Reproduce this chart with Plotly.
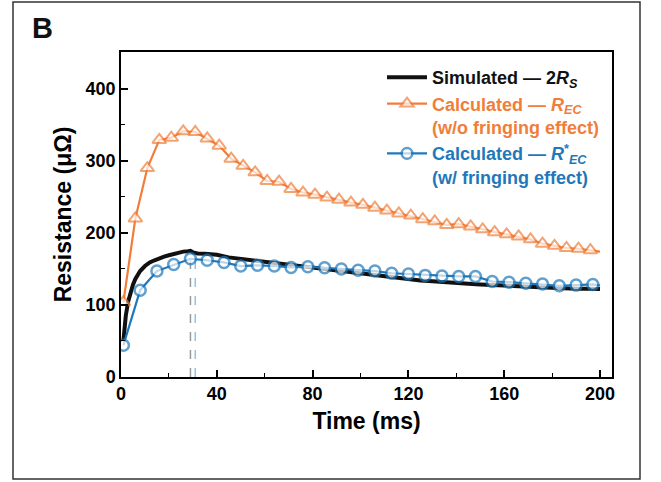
import plotly.graph_objects as go

# ---- data ----
t_sim = [1, 2, 3, 4, 5, 6, 7, 8, 10, 12, 14, 16, 18, 20, 22, 24, 26, 28, 29, 30, 32, 35, 40, 45,
         50, 55, 60, 65, 70, 75, 80, 85, 90, 95, 100, 105, 110, 115, 120, 125, 130, 135, 140,
         145, 150, 155, 160, 165, 170, 175, 180, 185, 190, 195, 200]
r_sim = [50, 85, 105, 118, 128, 136, 142, 147, 154, 159, 162, 165, 167, 169, 171, 173, 174, 174.5,
         175, 173, 171.5, 171, 169.5, 166, 164, 162, 159.5, 157, 155, 153, 151, 149, 147, 145,
         143, 141, 139, 137, 135.5, 134, 133, 131.5, 130.5, 129.5, 128.5, 127.5, 127, 126, 125,
         124.5, 124, 123, 122.5, 122.5, 122]

t_ec = [1, 6, 11, 16, 21, 26, 31, 36, 41, 46, 51, 56, 61, 66, 71, 76, 81, 86, 91, 96, 101, 106,
        111, 116, 121, 126, 131, 136, 141, 146, 151, 156, 161, 166, 171, 176, 181, 186, 191, 196, 200]
r_ec = [104, 220, 290, 329, 332, 341, 340, 331, 321, 303, 293, 284, 272, 271, 261, 256, 253, 249,
        246, 242, 239, 235, 231, 227, 224, 219, 216, 211, 212, 209, 205, 201, 198, 195, 191, 185,
        182, 179, 178, 176, 174]

t_ecf = [1, 8, 15, 22, 29, 36, 43, 50, 57, 64, 71, 78, 85, 92, 99, 106, 113, 120, 127, 134, 141,
         148, 155, 162, 169, 176, 183, 190, 197, 200]
r_ecf = [44, 120.5, 147, 156, 164, 162, 159, 154, 155, 154, 152, 153, 151.5, 150, 148, 147, 144,
         143, 141, 140, 139.5, 139.5, 132.5, 131.6, 130, 129, 126.5, 127.5, 128.4, 127]

# peak markers (dashed guides)
peak_sim_t, peak_sim_r = 29, 175
peak_ecf_t, peak_ecf_r = 31, 163.5

x_ticks = [0, 40, 80, 120, 160, 200]
y_ticks = [0, 100, 200, 300, 400]

BLACK = "#111111"
ORANGE = "#F07E3A"
BLUE = "#1F78BA"
LBLUE = "#8EC3EE"
GRAY = "#9A9A9A"
FONT = "Liberation Sans, Arial, sans-serif"

fig = go.Figure()

# dashed guides
fig.add_trace(go.Scatter(x=[peak_sim_t, peak_sim_t], y=[0, peak_sim_r], mode="lines",
                         line=dict(color=GRAY, width=1.5, dash="dash"), showlegend=False,
                         hoverinfo="skip"))
fig.add_trace(go.Scatter(x=[peak_ecf_t, peak_ecf_t], y=[0, peak_ecf_r], mode="lines",
                         line=dict(color=LBLUE, width=1.5, dash="dash"), showlegend=False,
                         hoverinfo="skip"))

fig.add_trace(go.Scatter(
    x=t_sim, y=r_sim, mode="lines", line=dict(color=BLACK, width=4),
    name="<span style='color:#111111'>Simulated — 2<i>R</i><sub><i>S</i></sub></span>"))

sizes_ec = [12] * (len(t_ec) - 1) + [0]
fig.add_trace(go.Scatter(
    x=t_ec, y=r_ec, mode="lines+markers", line=dict(color=ORANGE, width=2.2),
    marker=dict(symbol="triangle-up", size=sizes_ec, color="white",
                line=dict(color=ORANGE, width=2)),
    name=f"<span style='color:{ORANGE}'>Calculated — <i>R</i><sub><i>EC</i></sub><br>(w/o fringing effect)</span>"))

sizes_ecf = [11] * (len(t_ecf) - 1) + [0]
fig.add_trace(go.Scatter(
    x=t_ecf, y=r_ecf, mode="lines+markers", line=dict(color=BLUE, width=2.2),
    marker=dict(symbol="circle", size=sizes_ecf, color="white",
                line=dict(color=BLUE, width=2.5)),
    name=f"<span style='color:{BLUE}'>Calculated — <i>R</i><sup>*</sup><sub><i>EC</i></sub><br>(w/ fringing effect)</span>"))

L, R, T, B = 121, 49, 52, 105
W, H = 661, 482
pw, ph = W - L - R, H - T - B


def px(x):
    return (x - L) / pw


def py(y):
    return (H - B - y) / ph


fig.update_layout(
    width=W, height=H,
    margin=dict(l=L, r=R, t=T, b=B),
    paper_bgcolor="white", plot_bgcolor="white",
    font=dict(family=FONT, color="black"),
    showlegend=True,
    legend=dict(x=px(382), y=py(59), xanchor="left", yanchor="top",
                bgcolor="rgba(0,0,0,0)", valign="top", tracegroupgap=0,
                font=dict(size=18, family=FONT, weight="bold"), itemwidth=40),
    xaxis=dict(range=[0, 205], tickvals=x_ticks, ticks="inside", ticklen=7, tickwidth=1.5,
               tickcolor="black", showline=True, linecolor="black", linewidth=1.5, mirror=True,
               showgrid=False, zeroline=False,
               tickfont=dict(size=18, family=FONT, weight="bold"),
               minor=dict(ticks="inside", ticklen=4, tickwidth=1.2, dtick=20, tick0=0,
                          tickcolor="black", showgrid=False),
               title=dict(text="Time (ms)", font=dict(size=23, family=FONT, weight="bold"),
                          standoff=10)),
    yaxis=dict(range=[0, 451], tickvals=y_ticks, ticks="inside", ticklen=7, tickwidth=1.5,
               tickcolor="black", showline=True, linecolor="black", linewidth=1.5, mirror=True,
               showgrid=False, zeroline=False,
               tickfont=dict(size=18, family=FONT, weight="bold"),
               minor=dict(ticks="inside", ticklen=4, tickwidth=1.2, dtick=50, tick0=0,
                          tickcolor="black", showgrid=False),
               title=dict(text="Resistance (μΩ)", font=dict(size=23, family=FONT, weight="bold"),
                          standoff=8)),
    shapes=[dict(type="rect", xref="paper", yref="paper", x0=px(13), x1=px(640),
                 y0=py(479), y1=py(2), line=dict(color="#333333", width=1.5),
                 fillcolor="rgba(0,0,0,0)", layer="below")],
    annotations=[dict(text="<b>B</b>", xref="paper", yref="paper", x=px(30), y=py(28),
                      xanchor="left", yanchor="middle", showarrow=False,
                      font=dict(size=29, family=FONT, color="#111111"))],
)

fig.write_html("out.html")
